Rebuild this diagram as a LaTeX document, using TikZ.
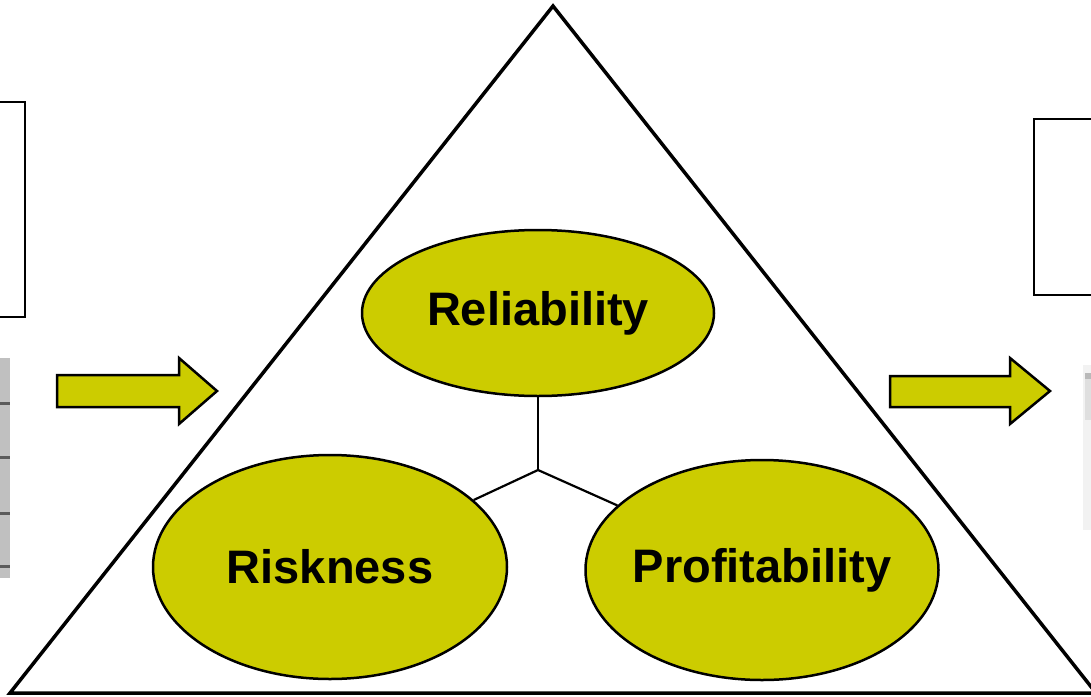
\documentclass[tikz,border=0pt]{standalone}
\usepackage{fontspec}
\setmainfont{Liberation Sans}
\usetikzlibrary{shapes.geometric}
\definecolor{olive}{HTML}{CCCC00}
\definecolor{stripgray}{HTML}{C0C0C0}
\definecolor{stripline}{HTML}{5A5A5A}
\tikzset{
  bubble/.style={ellipse, draw=black, line width=2.5pt, fill=olive,
    inner xsep=-60pt, inner ysep=-10pt,
    font=\fontsize{47}{50}\selectfont\bfseries},
  link/.style={draw=black, line width=2.2pt},
  fatarrow/.style={draw=black, line width=2.5pt, fill=olive, line join=miter},
  frame/.style={draw=black, line width=2.5pt, fill=white}
}
\begin{document}
\begin{tikzpicture}[x=1pt,y=-1pt]
\useasboundingbox (0,0) rectangle (1091,696);
\clip (0,0) rectangle (1091,696);
\fill[white] (0,0) rectangle (1091,696);

% partial frames at the left and right edges
\draw[frame] (-10,102) rectangle (25,317);
\draw[frame] (1034,119) rectangle (1110,295);

% grey striped strip at the left edge
\fill[stripgray] (0,358) rectangle (10,578);
\foreach \yy in {403,457,513,566}
  \fill[stripline] (0,\yy-1.5) rectangle (10,\yy+1.5);

% faint fragment at the right edge
\fill[gray!10] (1083,365) rectangle (1091,530);
\fill[gray!55] (1085,373) rectangle (1091,379);
\fill[gray!25] (1085,379) rectangle (1091,420);

% block arrows
\draw[fatarrow] (57,375) -- (179,375) -- (179,358) -- (217,391) -- (179,424) -- (179,407) -- (57,407) -- cycle;
\draw[fatarrow] (890,376) -- (1010,376) -- (1010,358) -- (1050,391) -- (1010,424) -- (1010,407) -- (890,407) -- cycle;

% main triangle
\draw[black, line width=3.5pt, line join=miter] (553,6) -- (1096,693) -- (10,693) -- cycle;

% three ellipses
\node[bubble, minimum width=352pt, minimum height=166pt] (rel) at (538,313) {Reliability};
\node[bubble, minimum width=354pt, minimum height=224pt] (risk) at (330,567) {Riskness};
\node[bubble, minimum width=353pt, minimum height=220pt] (prof) at (762,570) {Profitability};

% connecting lines
\coordinate (hub) at (538,470);
\draw[link] (rel.south) -- (hub);
\draw[link] (hub) -- (risk);
\draw[link] (hub) -- (prof);
\end{tikzpicture}
\end{document}
